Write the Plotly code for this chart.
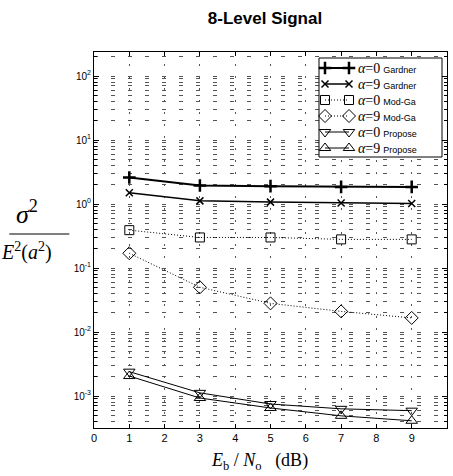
import plotly.graph_objects as go

# ---- data ----
ebno = [1, 3, 5, 7, 9]
gardner_a0 = [2.6, 1.95, 1.9, 1.85, 1.85]
gardner_a9 = [1.5, 1.12, 1.07, 1.04, 1.02]
modga_a0 = [0.39, 0.30, 0.30, 0.28, 0.28]
modga_a9 = [0.17, 0.050, 0.028, 0.021, 0.0166]
propose_a0 = [2.4e-3, 1.12e-3, 7.5e-4, 6.3e-4, 5.9e-4]
propose_a9 = [2.05e-3, 9.3e-4, 6.5e-4, 4.9e-4, 4.1e-4]

alphas = [0, 9, 0, 9, 0, 9]
methods = ["Gardner", "Gardner", "Mod-Ga", "Mod-Ga", "Propose", "Propose"]

x_ticks = list(range(0, 11))
y_tickvals = [1e-3, 1e-2, 1e-1, 1e0, 1e1, 1e2]
y_ticktext = ["10<sup>-3</sup>", "10<sup>-2</sup>", "10<sup>-1</sup>",
              "10<sup>0</sup>", "10<sup>1</sup>", "10<sup>2</sup>"]

styles = [
    (dict(symbol="cross-thin", size=9, line=dict(width=2.5, color="black")), dict(width=2, dash="solid")),
    (dict(symbol="x-thin", size=7, line=dict(width=1.5, color="black")), dict(width=1.5, dash="solid")),
    (dict(symbol="square-open", size=9, line=dict(width=1, color="black")), dict(width=1, dash="1px,2px")),
    (dict(symbol="diamond-open", size=10, line=dict(width=1, color="black")), dict(width=1, dash="1px,2px")),
    (dict(symbol="triangle-down-open", size=10, line=dict(width=1, color="black")), dict(width=1, dash="solid")),
    (dict(symbol="triangle-up-open", size=10, line=dict(width=1, color="black")), dict(width=1, dash="solid")),
]
all_series = [gardner_a0, gardner_a9, modga_a0, modga_a9, propose_a0, propose_a9]

fig = go.Figure()
for ys, a, m, (mk, ln) in zip(all_series, alphas, methods, styles):
    fig.add_trace(go.Scatter(
        x=ebno, y=ys, name="α=%d %s" % (a, m), mode="lines+markers",
        line=dict(color="black", **ln), marker=dict(color="black", **mk),
        showlegend=False,
    ))

# ---- hand-drawn legend on an overlay pixel-coordinate axis ----
L_X0, L_X1, L_Y0, L_Y1 = 319, 442, 58, 157
fig.add_trace(go.Scatter(
    x=[L_X0, L_X1, L_X1, L_X0, L_X0], y=[L_Y0, L_Y0, L_Y1, L_Y1, L_Y0],
    mode="lines", fill="toself", fillcolor="white", line=dict(color="black", width=1),
    xaxis="x2", yaxis="y2", showlegend=False, hoverinfo="skip",
))
row_y = [68 + 16 * i for i in range(6)]
for (mk, ln), ry in zip(styles, row_y):
    fig.add_trace(go.Scatter(
        x=[325, 349], y=[ry, ry], mode="lines+markers", xaxis="x2", yaxis="y2",
        line=dict(color="black", **ln), marker=dict(color="black", **mk),
        showlegend=False, hoverinfo="skip",
    ))
for a, m, ry in zip(alphas, methods, row_y):
    fig.add_annotation(xref="x2", yref="y2", x=356, y=ry, xanchor="left", yanchor="middle",
                       showarrow=False,
                       text=("<span style='font-family:Liberation Serif;font-size:14px'><i>α</i>=%d</span>"
                             " <span style='font-family:Liberation Sans Narrow, Liberation Sans;font-size:9px'>%s</span>") % (a, m))

fig.update_layout(
    width=453, height=476,
    margin=dict(l=94, r=6, t=52, b=48),
    paper_bgcolor="white", plot_bgcolor="white",
    font=dict(family="Liberation Sans, Arial, sans-serif", color="black", size=11),
    showlegend=False,
    title=dict(text="<b>8-Level Signal</b>", x=0.585, xanchor="center", y=0.962, yanchor="middle",
               font=dict(size=17, family="Liberation Sans, Arial, sans-serif", color="black")),
    xaxis=dict(
        range=[0, 10], tickvals=x_ticks, ticks="inside", ticklen=4, tickcolor="black",
        showline=True, linecolor="black", linewidth=1, mirror="ticks",
        showgrid=True, gridcolor="#555", gridwidth=1, griddash="2px,10px",
        zeroline=False, tickfont=dict(size=11),
    ),
    yaxis=dict(
        type="log", range=[-3.5, 2.375], tickvals=y_tickvals, ticktext=y_ticktext,
        ticks="inside", ticklen=5, tickcolor="black",
        showline=True, linecolor="black", linewidth=1, mirror="ticks",
        showgrid=True, gridcolor="#555", gridwidth=1, griddash="4px,13px",
        minor=dict(dtick="D1", ticks="inside", ticklen=3, tickcolor="black",
                   showgrid=True, gridcolor="#555", gridwidth=1, griddash="4px,13px"),
        zeroline=False, tickfont=dict(size=10),
    ),
    xaxis2=dict(overlaying="x", anchor="y", range=[94, 447], visible=False, fixedrange=True),
    yaxis2=dict(overlaying="y", anchor="x", range=[428, 52], visible=False, fixedrange=True),
)

# y-axis title as a fraction
FR = "Liberation Serif, Times New Roman, serif"
fig.add_annotation(xref="paper", yref="paper", x=-0.19, y=0.523, xanchor="center", yanchor="bottom",
                   text="<i>σ</i><sup>2</sup>", showarrow=False, font=dict(family=FR, size=26, color="black"))
fig.add_annotation(xref="paper", yref="paper", x=-0.19, y=0.508, xanchor="center", yanchor="top",
                   text="<i>E</i><sup>2</sup>(<i>a</i><sup>2</sup>)", showarrow=False,
                   font=dict(family=FR, size=20, color="black"))
fig.add_shape(type="line", xref="paper", yref="paper", x0=-0.24, x1=-0.07, y0=0.516, y1=0.516,
              line=dict(color="black", width=1.2))
# x-axis title
fig.add_annotation(xref="paper", yref="paper", x=0.47, y=-0.09, xanchor="center", yanchor="middle",
                   text="<i>E</i><sub>b</sub> / <i>N</i><sub>o</sub>   (dB)", showarrow=False,
                   font=dict(family=FR, size=18, color="black"))

fig.write_html("out.html", post_script="document.body.style.margin='0px';",
               config={"displayModeBar": False})
